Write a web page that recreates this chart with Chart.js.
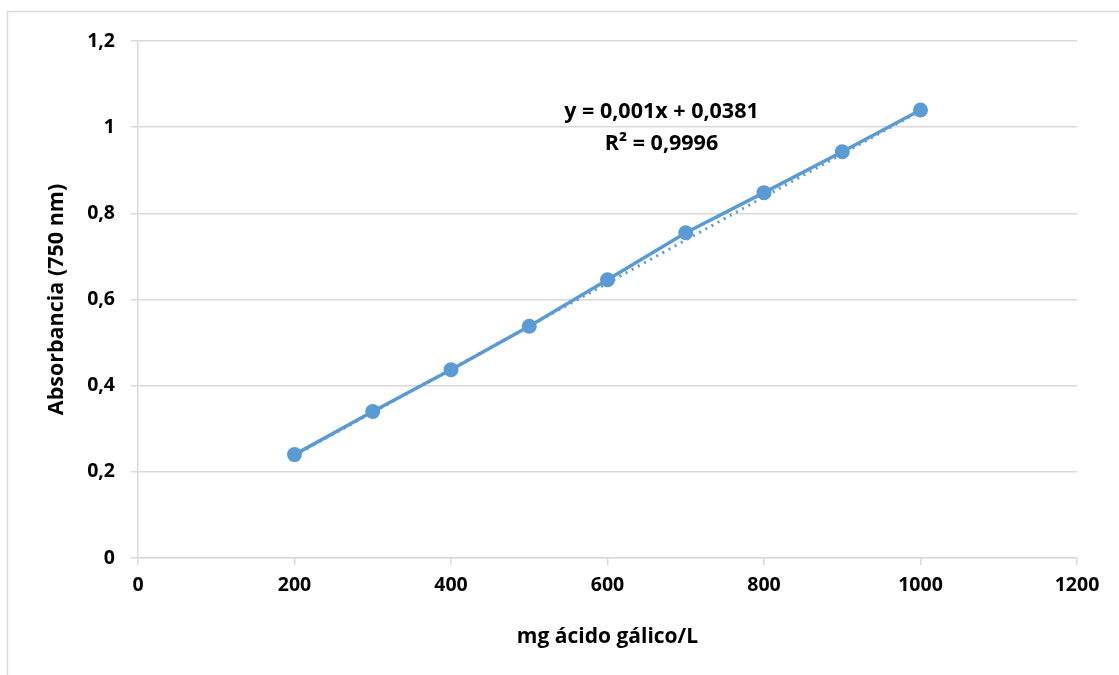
<!DOCTYPE html>
<html>
<head>
<meta charset="utf-8">
<script src="https://cdn.jsdelivr.net/npm/chart.js@4"></script>
<style>
  html, body { margin: 0; padding: 0; background: #fff; }
  #wrap { width: 1119px; height: 675px; }
</style>
</head>
<body>
<div id="wrap"><canvas id="chart" width="1119" height="675"></canvas></div>
<script>
// Data
const concentrations = [200, 300, 400, 500, 600, 700, 800, 900, 1000];
const absorbance = [0.240, 0.340, 0.437, 0.538, 0.646, 0.755, 0.848, 0.943, 1.040];
const trendX = [200, 1000];
const trendY = [0.2381, 1.0381];
const xTicks = [0, 200, 400, 600, 800, 1000, 1200];
const yTicks = [0, 0.2, 0.4, 0.6, 0.8, 1, 1.2];
const equationLines = ['y = 0,001x + 0,0381', 'R² = 0,9996'];

const BLUE = '#5b9bd5';
const GRID = '#d9d9d9';
const FONT = '"Open Sans", sans-serif';

// Excel-style frame and equation label
const decorPlugin = {
    id: 'decor',
    beforeDraw(chart) {
        const ctx = chart.ctx;
        ctx.save();
        ctx.fillStyle = '#fff';
        ctx.fillRect(0, 0, chart.width, chart.height);
        ctx.strokeStyle = GRID;
        ctx.lineWidth = 1.5;
        ctx.strokeRect(7.5, 11.5, chart.width + 20, chart.height + 20);
        ctx.restore();
    },
    afterDatasetsDraw(chart) {
        const ctx = chart.ctx;
        const x = chart.scales.x.getPixelForValue(669);
        const y = chart.scales.y.getPixelForValue(1.036);
        ctx.save();
        ctx.fillStyle = '#000';
        ctx.font = 'bold 21.5px ' + FONT;
        ctx.textAlign = 'center';
        ctx.textBaseline = 'middle';
        ctx.fillText(equationLines[0], x, y);
        ctx.fillText(equationLines[1], x, y + 32);
        ctx.restore();
    }
};

const fmt = v => String(Math.round(v * 10) / 10).replace('.', ',');

new Chart(document.getElementById('chart'), {
    type: 'scatter',
    data: {
        datasets: [
            {
                label: 'Lineal',
                data: trendX.map((x, i) => ({ x, y: trendY[i] })),
                showLine: true,
                borderColor: BLUE,
                borderWidth: 3,
                borderDash: [2, 5],
                pointRadius: 0,
                order: 2
            },
            {
                label: 'Absorbancia',
                data: concentrations.map((x, i) => ({ x, y: absorbance[i] })),
                showLine: true,
                borderColor: BLUE,
                backgroundColor: BLUE,
                borderWidth: 3.5,
                pointRadius: 7.5,
                pointBorderWidth: 0,
                tension: 0,
                order: 1
            }
        ]
    },
    options: {
        responsive: false,
        animation: false,
        layout: { padding: { left: 0, top: 41, right: 42, bottom: 0 } },
        plugins: {
            legend: { display: false },
            tooltip: { enabled: false }
        },
        scales: {
            x: {
                type: 'linear',
                min: 0,
                max: 1200,
                afterBuildTicks: s => { s.ticks = xTicks.map(v => ({ value: v })); },
                afterFit: s => { s.height = 117; },
                grid: {
                    drawOnChartArea: false,
                    drawTicks: true,
                    tickLength: 7,
                    color: GRID,
                    lineWidth: 1.5
                },
                border: { color: GRID, width: 1.5 },
                ticks: {
                    color: '#000',
                    padding: 9,
                    maxRotation: 0,
                    font: { family: FONT, size: 19.5, weight: 'bold' },
                    callback: v => String(v)
                },
                title: {
                    display: true,
                    text: 'mg ácido gálico/L',
                    color: '#000',
                    padding: { top: 0, bottom: 25 },
                    font: { family: FONT, size: 21, weight: 'bold' }
                }
            },
            y: {
                type: 'linear',
                min: 0,
                max: 1.2,
                afterBuildTicks: s => { s.ticks = yTicks.map(v => ({ value: v })); },
                afterFit: s => { s.width = 138; },
                grid: {
                    drawTicks: true,
                    tickLength: 7,
                    color: GRID,
                    lineWidth: 1.5
                },
                border: { color: GRID, width: 1.5 },
                ticks: {
                    color: '#000',
                    padding: 16,
                    font: { family: FONT, size: 19.5, weight: 'bold' },
                    callback: v => fmt(v)
                },
                title: {
                    display: true,
                    text: 'Absorbancia (750 nm)',
                    color: '#000',
                    padding: { top: 44, bottom: 0 },
                    font: { family: FONT, size: 21.5, weight: 'bold' }
                }
            }
        }
    },
    plugins: [decorPlugin]
});
</script>
</body>
</html>
